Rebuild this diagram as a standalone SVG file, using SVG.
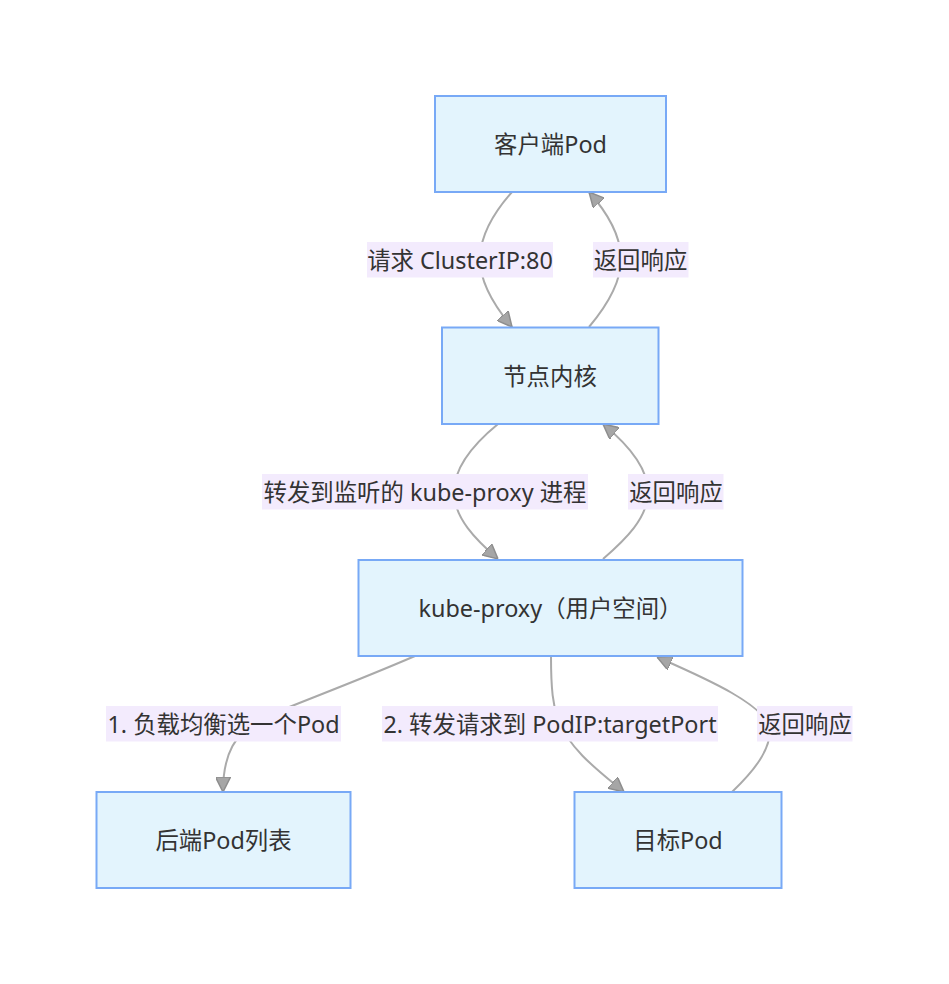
<svg xmlns="http://www.w3.org/2000/svg" width="949" height="984" viewBox="0 0 949 984">
<defs>
<style>
.node rect{fill:#e3f4fd;stroke:#78a9f6;stroke-width:2}
.lbl{font-family:"Noto Sans","Noto Sans CJK SC",sans-serif;font-size:23.4px;fill:#333;text-anchor:middle;dominant-baseline:central}
.edge{fill:none;stroke:#aaaaaa;stroke-width:2}
.ebg{fill:#f3ebfd}
</style>
<marker id="arr" viewBox="0 0 10 10" refX="10" refY="5" markerUnits="userSpaceOnUse" markerWidth="15" markerHeight="15" orient="auto">
<path d="M0,0 L10,5 L0,10 z" fill="#a6a6a6" stroke="#8e8e8e" stroke-width="1"/>
</marker>
</defs>
<rect width="949" height="984" fill="#ffffff"/>
<g id="connectors">
<path class="edge" d="M512,192 C496,210 480,235 480,259.5 C480,284 496,308 512,327" marker-end="url(#arr)"/>
<path class="edge" d="M589,327 C605,308 621,284 621,259.5 C621,235 605,210 589,192" marker-end="url(#arr)"/>
<path class="edge" d="M498,424 C476,442 454,466 454,492 C454,518 476,540 498,559" marker-end="url(#arr)"/>
<path class="edge" d="M603,559 C625,540 648,518 648,492 C648,466 625,442 603,424" marker-end="url(#arr)"/>
<path class="edge" d="M415,656 C350,684 300,702 265,717 C234,732 223,755 223,792" marker-end="url(#arr)"/>
<path class="edge" d="M551,656 C551,690 553,705 558,720 C570,750 600,772 624,792" marker-end="url(#arr)"/>
<path class="edge" d="M732,792 C755,770 770,750 770,730 C768,705 700,676 657,657" marker-end="url(#arr)"/>
<rect class="ebg" x="367" y="242" width="186" height="35.5"/>
<text class="lbl" x="460" y="259.5">请求 ClusterIP:80</text>
<rect class="ebg" x="593" y="242" width="95.5" height="35.5"/>
<text class="lbl" x="640.5" y="259.5">返回响应</text>
<rect class="ebg" x="262" y="474" width="326" height="35.5"/>
<text class="lbl" x="425" y="492">转发到监听的 kube-proxy 进程</text>
<rect class="ebg" x="628" y="474" width="95.5" height="35.5"/>
<text class="lbl" x="676" y="492">返回响应</text>
<rect class="ebg" x="106" y="706" width="235" height="35.5"/>
<text class="lbl" x="223.5" y="723.7">1. 负载均衡选一个Pod</text>
<rect class="ebg" x="382" y="706" width="336" height="35.5"/>
<text class="lbl" x="550" y="723.7">2. 转发请求到 PodIP:targetPort</text>
<rect class="ebg" x="757" y="706" width="95.5" height="35.5"/>
<text class="lbl" x="805" y="723.7">返回响应</text>
</g>
<g id="client" class="node"><rect x="435" y="96" width="231" height="96"/><text class="lbl" x="550.5" y="144">客户端Pod</text></g>
<g id="kernel" class="node"><rect x="442" y="327.5" width="216.5" height="96.5"/><text class="lbl" x="550" y="376">节点内核</text></g>
<g id="kubeproxy" class="node"><rect x="358.5" y="560" width="384" height="96"/><text class="lbl" x="550.5" y="608">kube-proxy（用户空间）</text></g>
<g id="backends" class="node"><rect x="96.5" y="792" width="254" height="96"/><text class="lbl" x="223.5" y="840">后端Pod列表</text></g>
<g id="target" class="node"><rect x="574.5" y="792" width="207" height="96"/><text class="lbl" x="678" y="840">目标Pod</text></g>
</svg>
